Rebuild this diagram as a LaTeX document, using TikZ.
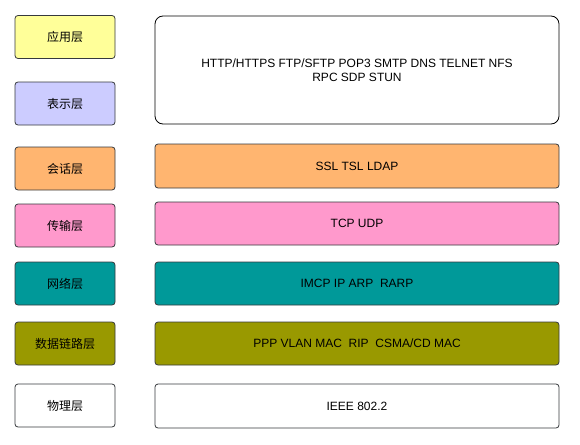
\documentclass[tikz,border=0pt]{standalone}
\usepackage{fontspec}
\setmainfont{Liberation Sans}
\newfontfamily\cjk{Noto Sans CJK SC}
\definecolor{cyel}{HTML}{FFFF99}
\definecolor{clav}{HTML}{CCCCFF}
\definecolor{cora}{HTML}{FFB570}
\definecolor{cpink}{HTML}{FF99CC}
\definecolor{cteal}{HTML}{009999}
\definecolor{colive}{HTML}{999900}
\definecolor{cedge}{HTML}{36393D}
\begin{document}
\begin{tikzpicture}[x=1pt,y=-1pt,
  layer/.style={draw=cedge, line width=0.8pt, rounded corners=3pt, font=\fontsize{12}{14}\selectfont\cjk, inner sep=0pt},
  proto/.style={draw=cedge, line width=0.8pt, rounded corners=3pt, font=\fontsize{12}{14}\selectfont, align=center, inner sep=0pt}]
\useasboundingbox (0,0) rectangle (580,444);
\def\lbox#1#2#3#4{\node[layer, fill=#3, minimum width=100pt, minimum height=43pt] (#1) at (65,#2) {#4};}
\def\rbox#1#2#3#4#5{\node[proto, fill=#3, minimum width=404pt, minimum height=#4] (#1) at (357,#2) {#5};}
\lbox{app}{37}{cyel}{应用层}
\lbox{pre}{103.5}{clav}{表示层}
\lbox{ses}{168.5}{cora}{会话层}
\lbox{tra}{225.5}{cpink}{传输层}
\lbox{net}{283.5}{cteal}{网络层}
\lbox{dl}{343.5}{colive}{数据链路层}
\lbox{phy}{405.5}{white}{物理层}
\node[proto, fill=white, rounded corners=8pt, draw=black, minimum width=404pt, minimum height=108pt] (top) at (357,70) {HTTP/HTTPS FTP/SFTP POP3 SMTP DNS TELNET NFS\\RPC SDP STUN};
\rbox{r1}{166}{cora}{44pt}{SSL TSL LDAP}
\rbox{r2}{223.5}{cpink}{43pt}{TCP UDP}
\rbox{r3}{283.5}{cteal}{43pt}{IMCP IP ARP\ \ RARP}
\rbox{r4}{343.5}{colive}{43pt}{PPP VLAN MAC\ \ RIP\ \ CSMA/CD MAC}
\rbox{r5}{406}{white}{44pt}{IEEE 802.2}
\end{tikzpicture}
\end{document}
